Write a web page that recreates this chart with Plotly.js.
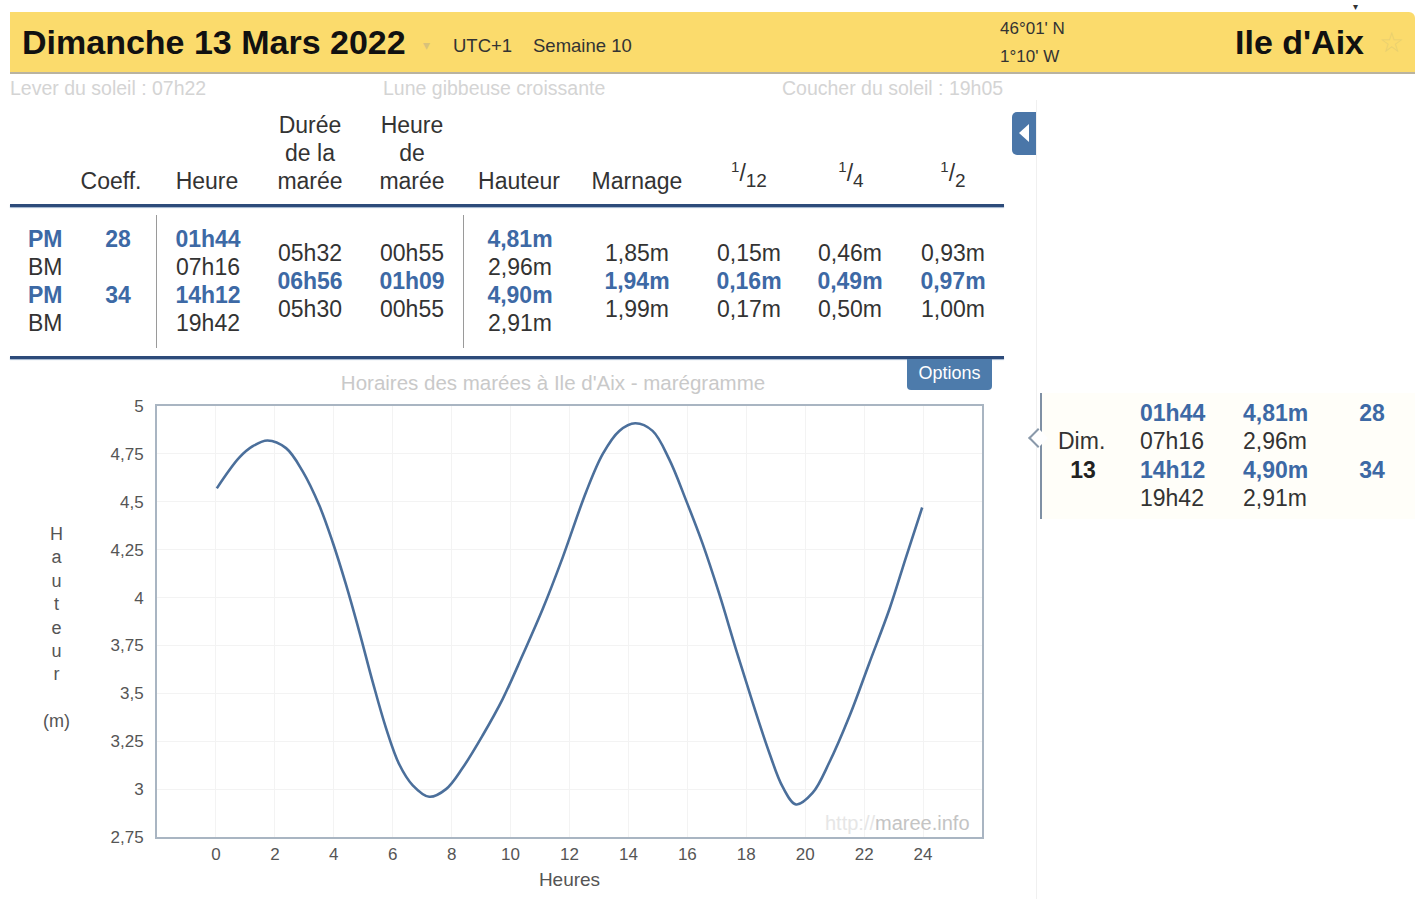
<!DOCTYPE html>
<html><head><meta charset="utf-8">
<script src="https://cdn.plot.ly/plotly-3.0.1.min.js"></script>
<style>
html,body{margin:0;padding:0;background:#fff;width:1415px;height:899px;overflow:hidden;font-family:"Liberation Sans",Arial,sans-serif;}
.a{position:absolute;white-space:nowrap;}
.c{transform:translate(-50%,-50%);}
.l{transform:translate(0,-50%);}
</style></head><body>
<div id="page"></div>
<div id="chart" class="a" style="left:0;top:365px;width:1005px;height:534px;"></div>
<script>
// ---- data ----
const tideTypes = ['PM','BM','PM','BM'];
const coeffs = ['28','','34',''];
const tideTimes = ['01h44','07h16','14h12','19h42'];
const tideHeights = ['4,81m','2,96m','4,90m','2,91m'];
const durations = ['05h32','06h56','05h30'];
const tideHourLen = ['00h55','01h09','00h55'];
const marnage = ['1,85m','1,94m','1,99m'];
const twelfth = ['0,15m','0,16m','0,17m'];
const quarter = ['0,46m','0,49m','0,50m'];
const half = ['0,93m','0,97m','1,00m'];

const curveHours = [0.03,0.79,1.25,1.75,2.38,2.94,3.51,3.96,4.41,4.87,5.32,5.77,6.22,6.68,7.24,7.81,8.37,9.05,9.73,10.41,11.09,11.77,12.56,13.13,13.69,14.23,14.82,15.39,15.95,16.52,17.08,17.65,18.22,18.78,19.24,19.69,20.25,20.82,21.50,22.18,22.86,23.42,23.97];
const curveHeights = [4.57,4.73,4.79,4.82,4.78,4.66,4.48,4.29,4.07,3.82,3.56,3.32,3.13,3.02,2.96,3.00,3.11,3.28,3.47,3.70,3.94,4.21,4.55,4.75,4.87,4.91,4.87,4.72,4.51,4.28,4.02,3.73,3.45,3.19,3.01,2.92,2.98,3.14,3.38,3.66,3.94,4.21,4.47];
const xTicks = [0,2,4,6,8,10,12,14,16,18,20,22,24];

// ---- page chrome ----
const BLUE = '#3d69a5';
const page = document.getElementById('page');
function el(html, style, cls){const d=document.createElement('div');d.className='a '+(cls||'');d.innerHTML=html;d.setAttribute('style',style);page.appendChild(d);return d;}
function txt(x,y,t,size,cls,extra){
  cls = cls||'c';
  let col = 'color:#333;';
  if(cls.indexOf(' b')>=0){col='color:'+BLUE+';font-weight:bold;';cls=cls.replace(' b','');}
  return el(t,`left:${x}px;top:${y}px;font-size:${size}px;`+col+(extra||''),cls);
}

// header bar
el('','left:10px;top:12px;width:1405px;height:60px;background:#fbdb6c;border-bottom:2px solid #b9b3a0;border-top-right-radius:6px;');
txt(22,42,'Dimanche 13 Mars 2022',34,'l','font-weight:bold;color:#111;');
txt(423,45,'&#9662;',14,'l','color:#d8c27a;');
txt(453,46,'UTC+1',18.5,'l','color:#333;');
txt(533,46,'Semaine 10',18.5,'l','color:#333;');
txt(1000,29,"46°01' N",17,'l','color:#333;');
txt(1000,57,"1°10' W",17,'l','color:#333;');
txt(1235,42,"Ile d'Aix",34,'l','font-weight:bold;color:#111;');
txt(1391,42,'&#9734;',28,'c','color:#e8cf70;');
txt(1355,6,'&#9662;',10,'c','color:#333;');
txt(10,88,'Lever du soleil : 07h22',19.5,'l','color:#d4d4d4;');
txt(383,88,'Lune gibbeuse croissante',19.5,'l','color:#d4d4d4;');
txt(782,88,'Coucher du soleil : 19h05',19.5,'l','color:#d4d4d4;');

// table header
const hs=23;
txt(111,181,'Coeff.',hs);
txt(207,181,'Heure',hs);
txt(310,125,'Durée',hs);txt(310,153,'de la',hs);txt(310,181,'marée',hs);
txt(412,125,'Heure',hs);txt(412,153,'de',hs);txt(412,181,'marée',hs);
txt(519,181,'Hauteur',hs);
txt(637,181,'Marnage',hs);
txt(749,175,'<sup style="font-size:15px">1</sup>/<sub style="font-size:19px">12</sub>',hs);
txt(851,175,'<sup style="font-size:15px">1</sup>/<sub style="font-size:19px">4</sub>',hs);
txt(953,175,'<sup style="font-size:15px">1</sup>/<sub style="font-size:19px">2</sub>',hs);
el('','left:10px;top:204px;width:994px;height:3px;background:#2d4b7a;box-shadow:0 1px 1px #9fb3cc;');
el('','left:10px;top:356px;width:994px;height:3px;background:#2d4b7a;box-shadow:0 1px 1px #9fb3cc;');
el('','left:156px;top:215px;width:1px;height:133px;background:#9a9a9a;');
el('','left:463px;top:215px;width:1px;height:133px;background:#9a9a9a;');

// table rows
const rowY=[239,267,295,323], midY=[253,281,309];
tideTypes.forEach((t,i)=>{
  const c = t==='PM'?' b':'';
  txt(28,rowY[i],t,hs,'l'+c);
  if(coeffs[i]) txt(118,rowY[i],coeffs[i],hs,'c'+c);
  txt(208,rowY[i],tideTimes[i],hs,'c'+c);
  txt(520,rowY[i],tideHeights[i],hs,'c'+c);
});
[durations,tideHourLen,marnage,twelfth,quarter,half].forEach((arr,k)=>{
  const xs=[310,412,637,749,850,953][k];
  arr.forEach((v,i)=>txt(xs,midY[i],v,hs,'c'+(i===1?' b':'')));
});

// side tab + right panel
el('','left:1012px;top:112px;width:25px;height:43px;background:#4a76a8;border-radius:5px 0 0 5px;');
el('','left:1019px;top:124px;width:0;height:0;border-top:9px solid transparent;border-bottom:9px solid transparent;border-right:10px solid #fff;');
el('','left:1036px;top:100px;width:1px;height:799px;background:#f0f0f0;');
el('','left:1040px;top:393px;width:375px;height:126px;background:#fffef9;border-left:2px solid #7f90a4;');
el('','left:1031px;top:431px;width:12px;height:12px;border-left:2px solid #8a99aa;border-bottom:2px solid #8a99aa;transform:rotate(45deg);background:#fff;');
txt(1058,441,'Dim.',hs,'l');
txt(1083,470,'13',hs,'c','font-weight:bold;color:#222;');
tideTimes.forEach((t,i)=>{
  const y=[413,441,470,498][i]; const c=tideTypes[i]==='PM'?' b':'';
  txt(1140,y,t,hs,'l'+c);
  txt(1243,y,tideHeights[i],hs,'l'+c);
  if(coeffs[i]) txt(1372,y,coeffs[i],hs,'c'+c);
});

// options button
el('Options','left:907px;top:359px;width:85px;height:31px;background:#4d7bab;color:#fff;font-size:18px;line-height:29px;text-align:center;border-radius:0 0 4px 4px;z-index:5;');

// ---- chart ----
const font = '"Liberation Sans", Arial, sans-serif';
Plotly.newPlot('chart',[{
  x: curveHours, y: curveHeights, type:'scatter', mode:'lines',
  line:{color:'#4b6f9b', width:2.6, shape:'spline', smoothing:1},
  hoverinfo:'x+y'
}],{
  width:1005, height:534,
  margin:{l:157,r:23,t:41,b:62},
  paper_bgcolor:'rgba(0,0,0,0)', plot_bgcolor:'#fff',
  separators:', ',
  showlegend:false,
  font:{family:font,color:'#555'},
  title:{text:"Horaires des marées à Ile d'Aix - marégramme", font:{size:20.5,color:'#c9c9c9',family:font}, x:0.48, xref:'paper', xanchor:'center', y:0.966, yref:'container', yanchor:'middle'},
  xaxis:{range:[-2,26], tickvals:xTicks, showgrid:true, gridcolor:'#f3f3f3', zeroline:false,
    showline:true, mirror:true, linecolor:'#a9b5c2', linewidth:2,
    ticks:'outside', ticklen:1, tickcolor:'rgba(0,0,0,0)', tickfont:{size:17,color:'#555'},
    title:{text:'Heures', font:{size:19,color:'#555'}, standoff:9}, fixedrange:true},
  yaxis:{range:[2.75,5], dtick:0.25, tick0:2.75, showgrid:true, gridcolor:'#f3f3f3', zeroline:false,
    showline:true, mirror:true, linecolor:'#a9b5c2', linewidth:2,
    ticks:'outside', ticklen:8, tickcolor:'rgba(0,0,0,0)', tickfont:{size:17,color:'#555'}, fixedrange:true},
  annotations:[
    {xref:'paper',yref:'paper',x:-0.1224,y:0.485,xanchor:'center',yanchor:'middle',showarrow:false,
     text:'H<br>a<br>u<br>t<br>e<br>u<br>r<br><br>(m)', font:{size:18,color:'#555'}},
    {xref:'paper',yref:'paper',x:0.988,y:0.032,xanchor:'right',yanchor:'middle',showarrow:false,
     text:'<span style="color:#e6e6e6">http://</span><span style="color:#c4c4c4">maree.info</span>', font:{size:20}}
  ]
},{displayModeBar:false});
</script>
</body></html>
